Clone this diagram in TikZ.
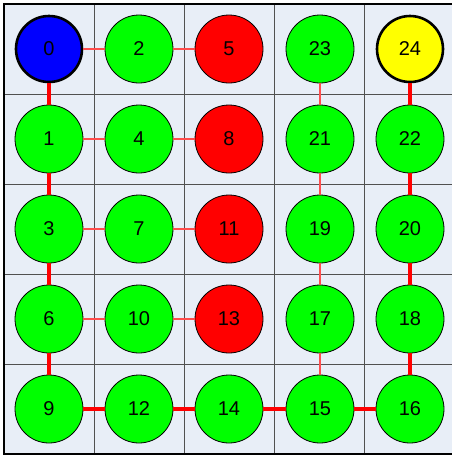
\documentclass[tikz,border=0pt]{standalone}
\usepackage{fontspec}
\setmainfont{Liberation Sans}
\usepackage{tikz}
\usetikzlibrary{backgrounds}
\definecolor{gpBack}{HTML}{E8EEF7}
\definecolor{gpGrid}{HTML}{505050}
\definecolor{gpGreen}{HTML}{00FF00}
\definecolor{gpRed}{HTML}{FF0000}
\definecolor{gpBlue}{HTML}{0000FF}
\definecolor{gpYellow}{HTML}{FFFF00}
\definecolor{gpLink}{HTML}{FF4D4D}
\tikzset{
  gp diagram/.style={x=1pt, y=-1pt},
  gp cell/.style={circle, draw=black, line width=0.8pt, fill=gpGreen,
    minimum size=68pt, inner sep=0pt, font=\fontsize{20}{22}\selectfont},
  gp wall/.style={gp cell, fill=gpRed},
  gp start/.style={gp cell, fill=gpBlue, line width=2.6pt, minimum size=66pt},
  gp goal/.style={gp cell, fill=gpYellow, line width=2.6pt, minimum size=66pt},
  gp link/.style={draw=gpLink, line width=1.2pt},
  gp path/.style={draw=gpRed, line width=4pt}
}
\begin{document}
\begin{tikzpicture}[gp diagram]
\useasboundingbox (0,0) rectangle (451,456);
\fill[gpBack] (4,4) rectangle (460,454);
\draw[gpGrid, line width=1pt] (94,4) -- (94,454) (184,4) -- (184,454)
  (274,4) -- (274,454) (364,4) -- (364,454);
\draw[gpGrid, line width=1pt] (4,94) -- (460,94) (4,184) -- (460,184)
  (4,274) -- (460,274) (4,364) -- (460,364);
\draw[black, line width=1.2pt] (460,4) -- (4,4) -- (4,454) -- (460,454);
% row 1
\node[gp start] (n0) at (49,49) {0};
\node[gp cell] (n2) at (139,49) {2};
\node[gp wall] (n5) at (229,49) {5};
\node[gp cell] (n23) at (320,49) {23};
\node[gp goal] (n24) at (410,49) {24};
% row 2
\node[gp cell] (n1) at (49,139) {1};
\node[gp cell] (n4) at (139,139) {4};
\node[gp wall] (n8) at (229,139) {8};
\node[gp cell] (n21) at (320,139) {21};
\node[gp cell] (n22) at (410,139) {22};
% row 3
\node[gp cell] (n3) at (49,229) {3};
\node[gp cell] (n7) at (139,229) {7};
\node[gp wall] (n11) at (229,229) {11};
\node[gp cell] (n19) at (320,229) {19};
\node[gp cell] (n20) at (410,229) {20};
% row 4
\node[gp cell] (n6) at (49,319) {6};
\node[gp cell] (n10) at (139,319) {10};
\node[gp wall] (n13) at (229,319) {13};
\node[gp cell] (n17) at (320,319) {17};
\node[gp cell] (n18) at (410,319) {18};
% row 5
\node[gp cell] (n9) at (49,409) {9};
\node[gp cell] (n12) at (139,409) {12};
\node[gp cell] (n14) at (229,409) {14};
\node[gp cell] (n15) at (320,409) {15};
\node[gp cell] (n16) at (410,409) {16};
% thin links
\draw[gp link] (n0) -- (n2);
\draw[gp link] (n2) -- (n5);
\draw[gp link] (n1) -- (n4);
\draw[gp link] (n4) -- (n8);
\draw[gp link] (n3) -- (n7);
\draw[gp link] (n7) -- (n11);
\draw[gp link] (n6) -- (n10);
\draw[gp link] (n10) -- (n13);
\draw[gp link] (n23) -- (n21);
\draw[gp link] (n21) -- (n19);
\draw[gp link] (n19) -- (n17);
\draw[gp link] (n17) -- (n15);
% path
\draw[gp path] (n0) -- (n1);
\draw[gp path] (n1) -- (n3);
\draw[gp path] (n3) -- (n6);
\draw[gp path] (n6) -- (n9);
\draw[gp path] (n9) -- (n12);
\draw[gp path] (n12) -- (n14);
\draw[gp path] (n14) -- (n15);
\draw[gp path] (n15) -- (n16);
\draw[gp path] (n16) -- (n18);
\draw[gp path] (n18) -- (n20);
\draw[gp path] (n20) -- (n22);
\draw[gp path] (n22) -- (n24);
\end{tikzpicture}
\end{document}
